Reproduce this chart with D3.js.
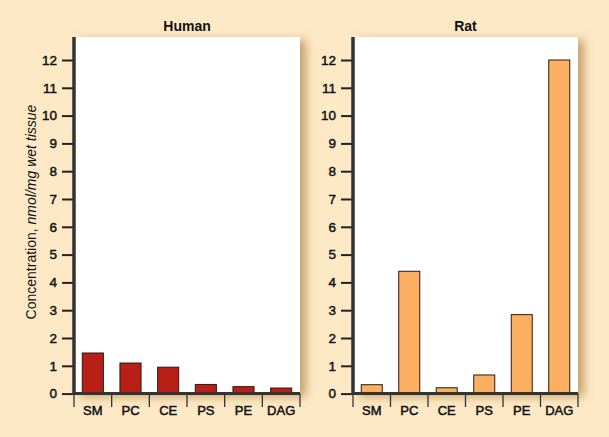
<!DOCTYPE html>
<html>
<head>
<meta charset="utf-8">
<script src="https://cdn.jsdelivr.net/npm/d3@7"></script>
<style>
  body { margin: 0; background: #fde9c6; }
  svg { display: block; font-family: "Liberation Sans", Arial, sans-serif; }
</style>
</head>
<body>
<div id="chart-area"><svg></svg></div>
<script>
// Data
const categories = ["SM", "PC", "CE", "PS", "PE", "DAG"];
const humanValues = [1.46, 1.1, 0.95, 0.33, 0.25, 0.2];
const ratValues = [0.32, 4.4, 0.21, 0.67, 2.84, 12.0];
const yTicks = [0, 1, 2, 3, 4, 5, 6, 7, 8, 9, 10, 11, 12];

const width = 609, height = 437;
const svg = d3.select("#chart-area").select("svg")
    .attr("width", width).attr("height", height);

// drop shadow for the white panels
const defs = svg.append("defs");
const f = defs.append("filter").attr("id", "shadow")
    .attr("x", "-10%").attr("y", "-10%").attr("width", "130%").attr("height", "130%");
f.append("feDropShadow")
    .attr("dx", 6).attr("dy", 3).attr("stdDeviation", 5)
    .attr("flood-color", "#a0702e").attr("flood-opacity", 0.6);

// shared y scale
const plotTop = 37, plotBottom = 393.6;
const y = d3.scaleLinear().domain([0, 12]).range([plotBottom, 60]);

const panels = [
    { title: "Human", values: humanValues, x0: 74, x1: 300, color: "#b71f17" },
    { title: "Rat", values: ratValues, x0: 353, x1: 578, color: "#fdb062" }
];

panels.forEach(p => {
    const g = svg.append("g");
    const x = d3.scaleBand().domain(categories).range([p.x0, p.x1]).paddingInner(0.44).paddingOuter(0.22);
    const xTicks = d3.scaleBand().domain(categories).range([p.x0, p.x1]);

    // white plot area
    g.append("rect")
        .attr("x", p.x0).attr("y", plotTop)
        .attr("width", p.x1 - p.x0).attr("height", plotBottom - plotTop)
        .attr("fill", "#fff")
        .attr("filter", "url(#shadow)");

    // title
    g.append("text")
        .attr("x", (p.x0 + p.x1) / 2).attr("y", 31)
        .attr("text-anchor", "middle")
        .style("font-size", "14px").attr("font-weight", "bold")
        .attr("fill", "#111")
        .text(p.title);

    // bars
    g.selectAll("rect.bar")
        .data(p.values)
        .join("rect")
        .attr("class", "bar")
        .attr("x", (d, i) => x(categories[i]))
        .attr("y", d => y(d))
        .attr("width", x.bandwidth())
        .attr("height", d => plotBottom - y(d))
        .attr("fill", p.color)
        .attr("stroke", "#2a1a12")
        .attr("stroke-width", 1);

    // y axis
    const yAxis = g.append("g")
        .attr("transform", `translate(${p.x0},0)`)
        .call(d3.axisLeft(y).tickValues(yTicks).tickSize(12).tickPadding(5));
    yAxis.attr("font-size", null).attr("font-family", null);
    yAxis.select(".domain").remove();
    yAxis.selectAll(".tick line").attr("stroke", "#222").attr("stroke-width", 2);
    yAxis.selectAll(".tick text")
        .style("font-size", "13.5px")
        .attr("fill", "#111")
        .attr("stroke", "#111").attr("stroke-width", 0.45);
    g.append("line")
        .attr("x1", p.x0).attr("x2", p.x0)
        .attr("y1", plotTop).attr("y2", plotBottom + 1.5)
        .attr("stroke", "#333").attr("stroke-width", 3.5);

    // x axis: separators between categories
    const seps = categories.map(c => xTicks(c)).concat([p.x1]);
    g.selectAll("line.sep")
        .data(seps)
        .join("line")
        .attr("class", "sep")
        .attr("x1", d => d).attr("x2", d => d)
        .attr("y1", plotBottom).attr("y2", 407)
        .attr("stroke", "#333").attr("stroke-width", 1.3);
    g.append("line")
        .attr("x1", p.x0 - 1).attr("x2", p.x1)
        .attr("y1", plotBottom).attr("y2", plotBottom)
        .attr("stroke", "#333").attr("stroke-width", 3);
    g.selectAll("text.cat")
        .data(categories)
        .join("text")
        .attr("class", "cat")
        .attr("x", d => xTicks(d) + xTicks.bandwidth() / 2)
        .attr("y", 414.5)
        .attr("text-anchor", "middle")
        .style("font-size", "13px")
        .attr("fill", "#111")
        .attr("stroke", "#111").attr("stroke-width", 0.5)
        .text(d => d);
});

// y axis title
const yTitle = svg.append("text")
    .attr("transform", "translate(36,212) rotate(-90)")
    .attr("text-anchor", "middle")
    .style("font-size", "14px").attr("fill", "#111");
yTitle.append("tspan").text("Concentration, ");
yTitle.append("tspan").attr("font-style", "italic").text("nmol/mg wet tissue");
</script>
</body>
</html>
